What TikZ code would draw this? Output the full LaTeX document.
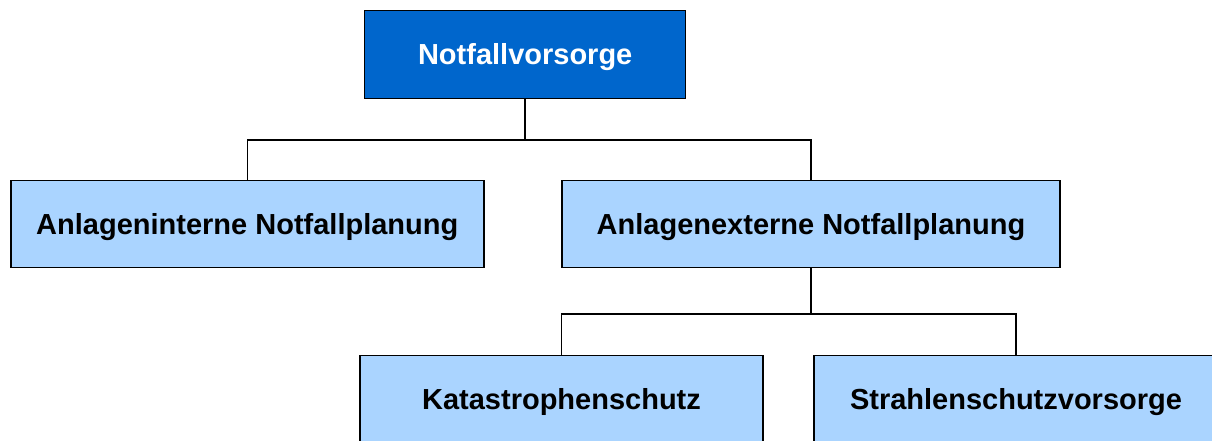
\documentclass[tikz,border=0pt]{standalone}
\usepackage{fontspec}
\setmainfont{Liberation Sans}
\definecolor{darkbox}{RGB}{0,102,204}
\definecolor{lightbox}{RGB}{170,212,255}
\begin{document}
\begin{tikzpicture}[x=1pt,y=-1pt,
  box/.style={draw=black,line width=1.5pt,inner sep=0pt,outer sep=0pt,
    font=\fontsize{29}{34}\selectfont\bfseries,text height=20.8pt,text depth=0pt},
  topbox/.style={box,fill=darkbox,text=white},
  subbox/.style={box,fill=lightbox,text=black},
  conn/.style={draw=black,line width=1.5pt}]
\useasboundingbox (0,0) rectangle (1212,441);
\clip (0,0) rectangle (1212,441);
\node[topbox,minimum width=321pt,minimum height=88pt] (top) at (525.2,54.3) {Notfallvorsorge};
\node[subbox,minimum width=473pt,minimum height=87pt] (left) at (247.3,224) {Anlageninterne Notfallplanung};
\node[subbox,minimum width=498pt,minimum height=87pt] (right) at (811,224) {Anlagenexterne Notfallplanung};
\node[subbox,minimum width=403pt,minimum height=88pt] (kat) at (561.5,399.5) {Katastrophenschutz};
\node[subbox,minimum width=404pt,minimum height=88pt] (str) at (1016,399.5) {Strahlenschutzvorsorge};
\coordinate (j1) at (525.2,140);
\coordinate (j2) at (811,314);
\draw[conn] (top.south) -- (j1);
\draw[conn] (left.north) |- (j1) -| (right.north);
\draw[conn] (right.south) -- (j2);
\draw[conn] (kat.north) |- (j2) -| (str.north);
\end{tikzpicture}
\end{document}
